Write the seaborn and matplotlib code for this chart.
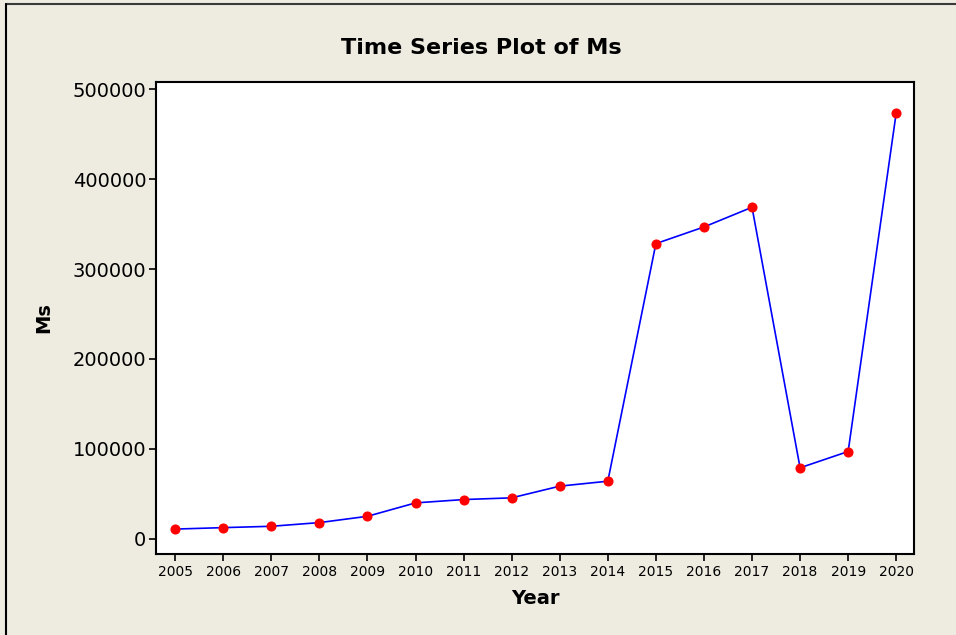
import matplotlib
matplotlib.use("Agg")
import matplotlib.pyplot as plt
import seaborn as sns
import pandas as pd
from matplotlib.lines import Line2D

# Values
years = [2005, 2006, 2007, 2008, 2009, 2010, 2011, 2012,
         2013, 2014, 2015, 2016, 2017, 2018, 2019, 2020]
ms = [11000, 12600, 14100, 18200, 25200, 40100, 43800, 45700,
      58700, 64200, 328200, 346700, 368600, 79100, 97200, 473600]

df = pd.DataFrame({"Year": years, "Ms": ms})

bg = "#EEEBE1"
sns.set_style("white")
plt.rcParams["font.family"] = ["DejaVu Sans"]
plt.rcParams["text.color"] = "black"
plt.rcParams["axes.labelcolor"] = "black"
plt.rcParams["xtick.color"] = "black"
plt.rcParams["ytick.color"] = "black"

fig = plt.figure(figsize=(9.56, 6.35), dpi=100, facecolor=bg)
ax = fig.add_axes([156 / 956, 1 - 554 / 635, (914 - 156) / 956, (554 - 82) / 635])
ax.set_facecolor("white")

sns.lineplot(data=df, x="Year", y="Ms", ax=ax, color="blue", linewidth=1.2,
             marker="o", markersize=6.5, markerfacecolor="red",
             markeredgecolor="red")

ax.set_xlim(2004.6, 2020.37)
ax.set_ylim(-16700, 507800)
ax.set_xticks(years)
ax.set_xticklabels([str(y) for y in years], fontsize=10)
ax.set_yticks([0, 100000, 200000, 300000, 400000, 500000])
ax.set_yticklabels(["0", "100000", "200000", "300000", "400000", "500000"], fontsize=14)
ax.tick_params(axis="both", direction="out", length=5, width=1.2, color="black",
               labelcolor="black", bottom=True, left=True)
ax.tick_params(axis="x", pad=3)
ax.tick_params(axis="y", pad=2)
for s in ax.spines.values():
    s.set_color("black")
    s.set_linewidth(1.5)

ax.set_xlabel("Year", fontsize=14, fontweight="bold", labelpad=7, color="black")
ax.set_ylabel("Ms", fontsize=14, fontweight="bold", labelpad=14, color="black")
fig.text(0.503, 1 - 48 / 635, "Time Series Plot of Ms", fontsize=16,
         fontweight="bold", ha="center", va="center", color="black")

# frame of the original window (top and left edges)
fig.add_artist(Line2D([6 / 956, 1], [1 - 4 / 635, 1 - 4 / 635], color="#3a3a3a", linewidth=1.5))
fig.add_artist(Line2D([6 / 956, 6 / 956], [0, 1 - 4 / 635], color="black", linewidth=1.5))

fig.savefig("out.png", dpi=100, facecolor=bg)
